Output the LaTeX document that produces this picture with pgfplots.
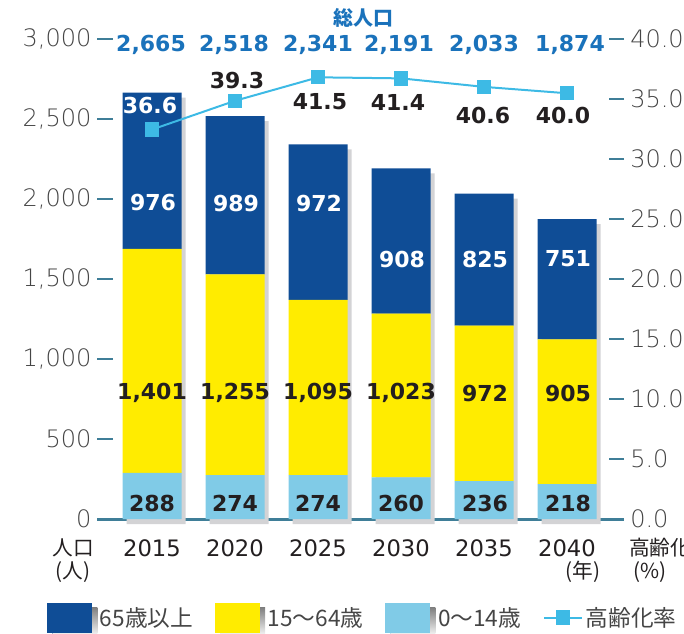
\documentclass[border=0pt]{standalone}
\usepackage{fontspec}
\setmainfont{DejaVu Sans}
\newfontfamily\jp{Noto Sans CJK JP}
\newfontfamily\tickfont{DejaVu Sans ExtraLight}
\usepackage{pgfplots}
\usepackage{pgfplotstable}
\pgfplotsset{compat=1.18}

\definecolor{old}{HTML}{0F4D96}
\definecolor{work}{HTML}{FFEC00}
\definecolor{young}{HTML}{80CBE7}
\definecolor{shade}{HTML}{D3D3D5}
\definecolor{ratio}{HTML}{3DBAE5}
\definecolor{total}{HTML}{1A72BB}
\definecolor{teal}{HTML}{3F7E98}
\definecolor{ink}{HTML}{231F20}
\definecolor{tickgray}{HTML}{454545}

% population by age group, total and ageing ratio (%)
\pgfplotstableread{
idx year young work old total ratio
0 2015 288 1401 976 2665 36.6
1 2020 274 1255 989 2518 39.3
2 2025 274 1095 972 2341 41.5
3 2030 260 1023 908 2191 41.4
4 2035 236 972 825 2033 40.6
5 2040 218 905 751 1874 40.0
}\pop

\pgfplotsset{
  base/.style={scale only axis, width=395.25pt, height=360pt,
    xmin=-0.665, xmax=5.684, ymin=0, ymax=3000, anchor=south west},
  boxlegend/.style={legend image code/.code={
      \fill[shade] (3.75pt,-15pt) rectangle (37.5pt,7.5pt);
      \fill[##1] (0pt,-11.25pt) rectangle (33.75pt,11.25pt);}},
  linelegend/.style={legend image code/.code={
      \draw[##1, sharp plot, mark repeat=2, mark phase=2] plot coordinates {(0pt,0pt) (14.25pt,0pt) (28.5pt,0pt)};}},
}

\begin{document}
\begin{tikzpicture}
\useasboundingbox (0,0) rectangle (513pt,474.75pt);

% baseline, drawn first so the bars cover it
\begin{axis}[base, at={(72.75pt,85.5pt)},
  axis x line*=bottom, x axis line style={-, draw=teal, line width=2.25pt}, xtick=\empty,
  axis y line=none]
\end{axis}

% bar shadows
\begin{axis}[base, at={(75.75pt,81.75pt)}, hide axis, ybar, bar width=0.711, clip=false]
\addplot[fill=shade, draw=none] table[x=idx,y=total]{\pop};
\end{axis}

% stacked bars, left axis
\begin{axis}[base, at={(72.75pt,85.5pt)}, ybar stacked, bar width=0.711,
  axis x line=none,
  axis y line*=left, y axis line style={draw=none},
  ytick={0,500,...,3000}, tick align=inside, major tick length=12pt,
  ytick style={draw=teal, line width=2pt},
  /pgf/number format/assume math mode=true,
  /pgf/number format/1000 sep={,},
  yticklabel style={font=\tickfont\fontsize{18}{19}\selectfont, text=tickgray, inner sep=0pt, xshift=-4pt},
  legend style={at={(-0.0949,-0.2104)}, anchor=west, draw=none, fill=none, inner sep=0pt,
    legend columns=4, font=\jp\fontsize{17}{20}\selectfont, text=tickgray,
    nodes={inner sep=2pt},
    /tikz/every even column/.append style={column sep=14.5pt}},
  legend cell align=left]
\addplot[fill=young, draw=none, forget plot] table[x=idx,y=young]{\pop};
\addplot[fill=work, draw=none, forget plot] table[x=idx,y=work]{\pop};
\addplot[fill=old, draw=none, forget plot] table[x=idx,y=old]{\pop};
\addlegendimage{boxlegend, fill=old, draw=none}
\addlegendentry{65歳以上}
\addlegendimage{boxlegend, fill=work, draw=none}
\addlegendentry{15〜64歳}
\addlegendimage{boxlegend, fill=young, draw=none}
\addlegendentry{0〜14歳}
\addlegendimage{linelegend, ratio, line width=1.5pt, mark=square*, mark size=4.6pt}
\addlegendentry{高齢化率}
\end{axis}

% right axis ticks
\begin{axis}[base, at={(72.75pt,85.5pt)}, ymin=0, ymax=40,
  axis y line*=right, y axis line style={draw=none}, axis x line=none,
  ytick={0,5,...,40}, tick align=inside, major tick length=11.25pt,
  ytick style={draw=teal, line width=2pt},
  /pgf/number format/assume math mode=true,
  yticklabel={\pgfmathprintnumber[fixed,fixed zerofill,precision=1]{\tick}},
  yticklabel style={font=\tickfont\fontsize{18}{19}\selectfont, text=tickgray, inner sep=0pt, xshift=4.5pt}]
\end{axis}

% ageing ratio line
\begin{axis}[base, at={(72.75pt,85.5pt)}, ymin=0, ymax=45.1, hide axis, clip=false]
\addplot[ratio, line width=1.5pt, mark=square*, mark size=4.6pt] table[x=idx,y=ratio]{\pop};
\end{axis}

% labels, in pixel units from the top left corner
\begin{scope}[x=0.75pt, y=-0.75pt, yshift=474.75pt,
  lab/.style={font=\bfseries\fontsize{16.5}{18}\selectfont, text=ink, inner sep=0pt}]
  \node[lab, text=total] at (151,45) {2,665};
  \node[lab, text=total] at (234,45) {2,518};
  \node[lab, text=total] at (318,45) {2,341};
  \node[lab, text=total] at (399,45) {2,191};
  \node[lab, text=total] at (484,45) {2,033};
  \node[lab, text=total] at (570,45) {1,874};
  \node[text=total, inner sep=0pt, font=\jp\bfseries\fontsize{15}{16}\selectfont] at (363,18) {総人口};
  % 65+
  \node[lab, text=white] at (153,203) {976};
  \node[lab, text=white] at (236,203) {989};
  \node[lab, text=white] at (319,203) {972};
  \node[lab, text=white] at (402,259) {908};
  \node[lab, text=white] at (485,259) {825};
  \node[lab, text=white] at (568,259) {751};
  % 15-64
  \node[lab] at (152,393) {1,401};
  \node[lab] at (235,393) {1,255};
  \node[lab] at (318,393) {1,095};
  \node[lab] at (401,393) {1,023};
  \node[lab] at (485,393) {972};
  \node[lab] at (568,393) {905};
  % 0-14
  \node[lab] at (152,503) {288};
  \node[lab] at (235,503) {274};
  \node[lab] at (318,503) {274};
  \node[lab] at (401,503) {260};
  \node[lab] at (485,503) {236};
  \node[lab] at (568,503) {218};
  % ratio
  \node[lab, text=white] at (150,105) {36.6};
  \node[lab] at (237,80) {39.3};
  \node[lab] at (320,102) {41.5};
  \node[lab] at (398,102) {41.4};
  \node[lab] at (483,115) {40.6};
  \node[lab] at (563,115) {40.0};
  % axis titles and years
  \foreach \x/\y in {152/2015, 235/2020, 318/2025, 401/2030, 484/2035, 567/2040}
    \node[text=ink, inner sep=0pt, font=\fontsize{17}{18}\selectfont] at (\x,548) {\y};
  \node[text=ink, inner sep=0pt, font=\jp\fontsize{15.5}{17}\selectfont] at (73,548) {人口};
  \node[text=ink, inner sep=0pt, font=\jp\fontsize{15.5}{17}\selectfont] at (73,572) {(人)};
  \node[text=ink, inner sep=0pt, font=\jp\fontsize{15.5}{17}\selectfont] at (583,572) {(年)};
  \node[text=ink, inner sep=0pt, anchor=west, font=\jp\fontsize{15.5}{17}\selectfont] at (629,548) {高齢化率};
  \node[text=ink, inner sep=0pt, font=\jp\fontsize{15.5}{17}\selectfont] at (650,572) {(\%)};
\end{scope}
\end{tikzpicture}
\end{document}
